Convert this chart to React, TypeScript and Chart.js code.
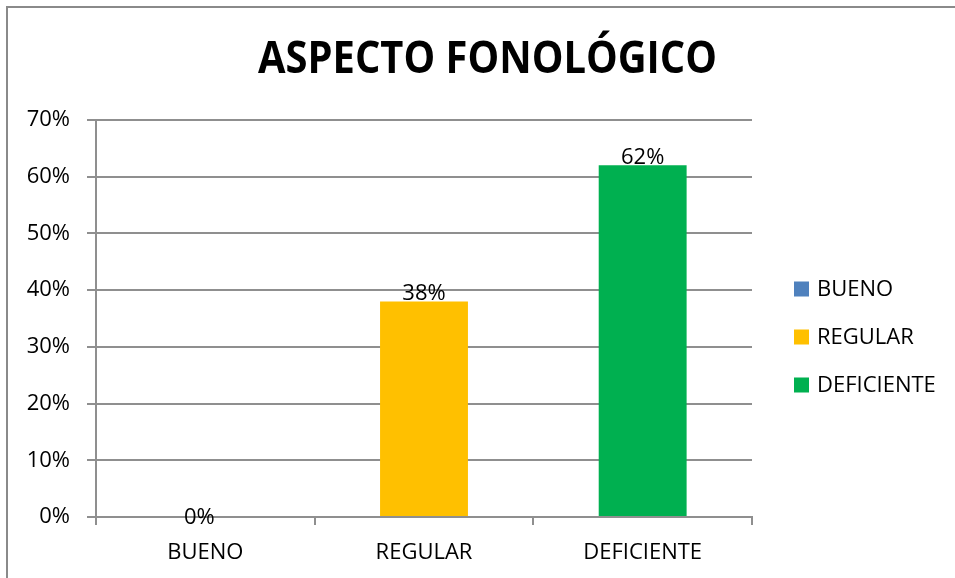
import React, { useEffect, useRef } from "react";
import { Chart, registerables } from "chart.js";

Chart.register(...registerables);

const TITLE = "ASPECTO FONOLÓGICO";
const CATEGORIES = ["BUENO", "REGULAR", "DEFICIENTE"];
const VALUES = [0, 38, 62];
const COLORS = ["#4F81BD", "#FFC000", "#00B050"];
const Y_MIN = 0;
const Y_MAX = 70;
const Y_STEP = 10;

const FONT = "'Open Sans', 'DejaVu Sans', sans-serif";
const GRID = "#8f8f8f";

const titlePlugin = {
  id: "customTitle",
  afterDraw(chart: any) {
    const ctx = chart.ctx;
    ctx.save();
    ctx.font = `bold 45px ${FONT}`;
    ctx.fillStyle = "#000";
    ctx.textAlign = "center";
    ctx.textBaseline = "middle";
    const w = ctx.measureText(TITLE).width;
    const sx = 459 / w;
    ctx.translate(487.5, 60);
    ctx.scale(sx, 1);
    ctx.fillText(TITLE, 0, 0);
    ctx.restore();
  },
};

const dataLabelPlugin = {
  id: "dataLabels",
  afterDatasetsDraw(chart: any) {
    const ctx = chart.ctx;
    const meta = chart.getDatasetMeta(0);
    ctx.save();
    ctx.font = `22px ${FONT}`;
    ctx.fillStyle = "#000";
    ctx.textAlign = "center";
    ctx.textBaseline = "middle";
    meta.data.forEach((bar: any, i: number) => {
      const y = VALUES[i] === 0 ? bar.y + 1 : bar.y - 8;
      ctx.fillText(`${VALUES[i]}%`, bar.x - (VALUES[i] === 0 ? 6 : 0), y);
    });
    ctx.restore();
  },
};

const legendPlugin = {
  id: "customLegend",
  afterDraw(chart: any) {
    const ctx = chart.ctx;
    const area = chart.chartArea;
    const x0 = area.right + 42;
    const cy = (area.top + area.bottom) / 2 + 18;
    const gap = 48;
    ctx.save();
    ctx.font = `22px ${FONT}`;
    ctx.textAlign = "left";
    ctx.textBaseline = "middle";
    CATEGORIES.forEach((c, i) => {
      const y = cy + (i - 1) * gap;
      ctx.fillStyle = COLORS[i];
      ctx.fillRect(x0, y - 7, 15, 15);
      ctx.fillStyle = "#000";
      ctx.fillText(c, x0 + 23, y + 1);
    });
    ctx.restore();
  },
};

export default function App() {
  const ref = useRef<HTMLCanvasElement | null>(null);

  useEffect(() => {
    document.body.style.overflow = "hidden";
    if (!ref.current) return;
    const chart = new Chart(ref.current, {
      type: "bar",
      data: {
        labels: CATEGORIES,
        datasets: [
          {
            label: "Aspecto fonológico",
            data: VALUES,
            backgroundColor: COLORS,
            borderWidth: 0,
            categoryPercentage: 1,
            barPercentage: 0.402,
          },
        ],
      },
      options: {
        animation: false,
        responsive: true,
        maintainAspectRatio: false,
        layout: { padding: { top: 120, right: 203, left: 0, bottom: 0 } },
        plugins: {
          legend: { display: false },
          title: { display: false },
          tooltip: { enabled: false },
        },
        scales: {
          x: {
            offset: true,
            grid: {
              display: true,
              drawOnChartArea: false,
              drawTicks: true,
              tickLength: 8,
              color: GRID,
              lineWidth: 2,
              offset: true,
            },
            border: { display: true, color: GRID, width: 2 },
            ticks: {
              color: "#000",
              font: { family: FONT, size: 22 },
              padding: 15,
              maxRotation: 0,
            },
            afterFit(scale: any) {
              scale.height = 61;
            },
          },
          y: {
            min: Y_MIN,
            max: Y_MAX,
            ticks: {
              stepSize: Y_STEP,
              color: "#000",
              font: { family: FONT, size: 22 },
              padding: 17,
              callback: (v: any) => `${v}%`,
            },
            grid: {
              color: GRID,
              lineWidth: 2,
              tickLength: 9,
            },
            border: { display: true, color: GRID, width: 2 },
            afterFit(scale: any) {
              scale.width = 96;
            },
          },
        },
      },
      plugins: [titlePlugin, dataLabelPlugin, legendPlugin],
    });
    return () => chart.destroy();
  }, []);

  return (
    <div
      style={{
        position: "fixed",
        left: 0,
        top: 0,
        width: 955,
        height: 578,
        overflow: "hidden",
        background: "#fff",
      }}
    >
      <canvas ref={ref} />
      <div
        style={{
          position: "absolute",
          left: 6,
          top: 6,
          width: 1000,
          height: 1000,
          borderTop: "2px solid #8a8a8a",
          borderLeft: "2px solid #8a8a8a",
          pointerEvents: "none",
        }}
      />
    </div>
  );
}
